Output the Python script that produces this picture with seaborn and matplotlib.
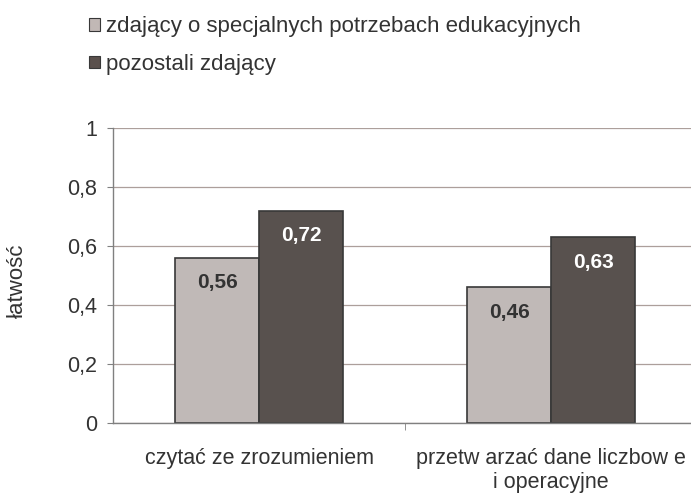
import pandas as pd
import seaborn as sns
import matplotlib.pyplot as plt
from matplotlib.patches import Patch
from matplotlib.ticker import FuncFormatter

categories = ["czytać ze zrozumieniem", "przetw arzać dane liczbow e\ni operacyjne"]
groups = ["zdający o specjalnych potrzebach edukacyjnych", "pozostali zdający"]
special = [0.56, 0.46]
others = [0.72, 0.63]
yticks = [0, 0.2, 0.4, 0.6, 0.8, 1]

LIGHT = "#c1b8b5"
DARK = "#5a504c"
TEXT = "#333333"


def comma(v, pos=None):
    return "{:g}".format(round(v, 2)).replace(".", ",")


def main():
    sns.set_style("white")
    plt.rcParams["font.family"] = ["Liberation Sans", "DejaVu Sans"]

    df = pd.DataFrame({
        "kategoria": categories * 2,
        "grupa": [groups[0]] * 2 + [groups[1]] * 2,
        "latwosc": special + others,
    })

    fig = plt.figure(figsize=(6.91, 4.95), dpi=100)
    ax = fig.add_axes([0.1635, 0.1455, 0.8365, 0.596])

    sns.barplot(data=df, x="kategoria", y="latwosc", hue="grupa",
                palette=[LIGHT, DARK], width=0.575, gap=0,
                edgecolor="#383838", linewidth=1.2, legend=False, ax=ax)

    ax.set_xlim(-0.5, 1.479)
    ax.set_ylim(0, 1)
    ax.set_yticks(yticks)
    ax.yaxis.set_major_formatter(FuncFormatter(comma))
    ax.yaxis.grid(True, color="#ac9f9b", linewidth=0.9)
    ax.set_axisbelow(True)

    for side in ["top", "right"]:
        ax.spines[side].set_visible(False)
    for side in ["left", "bottom"]:
        ax.spines[side].set_color("#808080")
        ax.spines[side].set_linewidth(1.0)

    ax.tick_params(axis="y", length=4.3, color="#808080", labelsize=15.5,
                   labelcolor=TEXT, left=True, pad=7)
    ax.tick_params(axis="x", length=0, labelsize=15.5, labelcolor=TEXT, pad=18)
    ax.set_xticks([0.5], minor=True)
    ax.tick_params(axis="x", which="minor", length=5, color="#808080", bottom=True)

    ax.set_xlabel("")
    ax.set_ylabel("łatwość", fontsize=16, color=TEXT)
    ax.yaxis.set_label_coords(-0.148, 0.481)

    for i, cont in enumerate(ax.containers):
        col = TEXT if i == 0 else "white"
        ax.bar_label(cont, labels=[comma(b.get_height()) for b in cont],
                     label_type="edge", padding=-25, color=col,
                     fontsize=15, fontweight="bold")

    handles = [Patch(facecolor=LIGHT, edgecolor="#383838", linewidth=0.8),
               Patch(facecolor=DARK, edgecolor="#383838", linewidth=0.8)]
    fig.legend(handles, groups, loc="upper left", bbox_to_anchor=(0.1288, 0.967),
               frameon=False, fontsize=16, handlelength=0.5, handleheight=0.5,
               handletextpad=0.28, labelspacing=0.75, borderpad=0,
               borderaxespad=0, labelcolor=TEXT)

    fig.savefig("out.png", dpi=100)
    plt.close(fig)


if __name__ == "__main__":
    main()
